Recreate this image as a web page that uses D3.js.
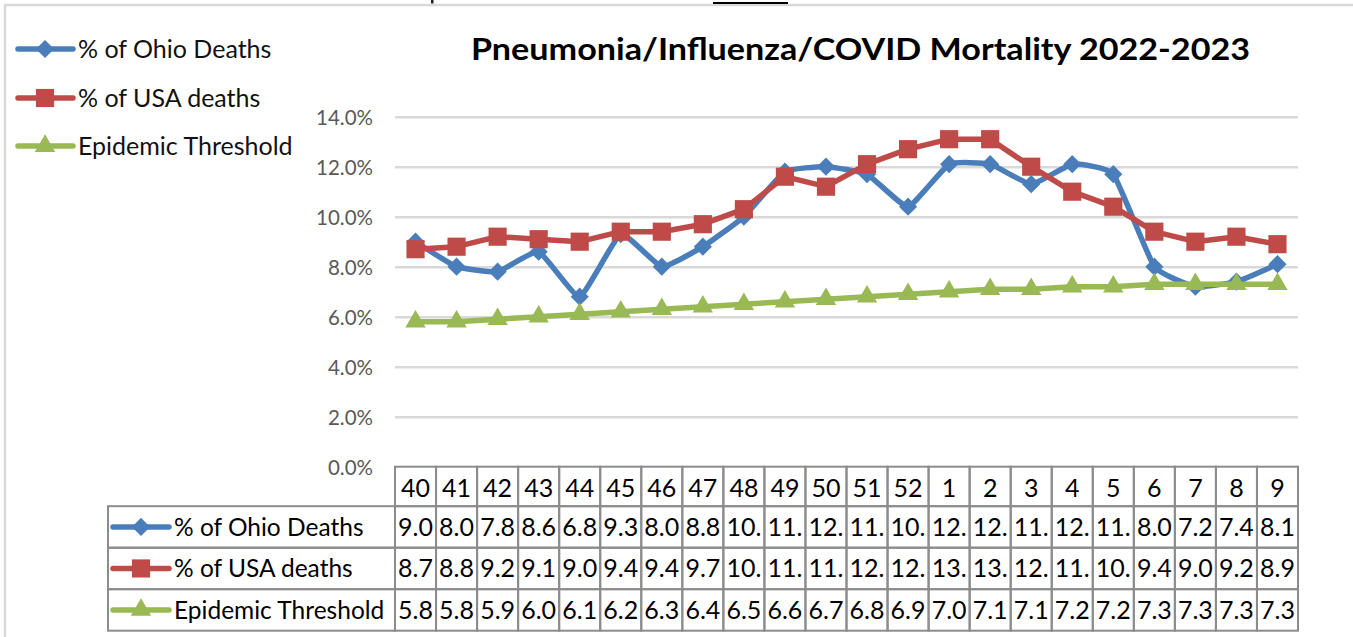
<!DOCTYPE html>
<html>
  <head>
    <meta charset="utf-8">
    <script src="https://cdn.jsdelivr.net/npm/d3@7"></script>
    <style>
        body { margin: 0; background: #fff; }
        text { font-family: Lato, "Open Sans", sans-serif; }
    </style>
  </head>

  <body>
    <div id="my_dataviz"></div>
  </body>

  <script>

    // week numbers along the table header
    let weeks = ["40","41","42","43","44","45","46","47","48","49","50","51","52",
                 "1","2","3","4","5","6","7","8","9"];

    let ohioDeaths = [9.0, 8.0, 7.8, 8.6, 6.8, 9.3, 8.0, 8.8, 10.0, 11.8, 12.0,
                      11.7, 10.4, 12.1, 12.1, 11.3, 12.1, 11.7, 8.0, 7.2, 7.4, 8.1];

    let usaDeaths = [8.7, 8.8, 9.2, 9.1, 9.0, 9.4, 9.4, 9.7, 10.3, 11.6, 11.2,
                     12.1, 12.7, 13.1, 13.1, 12.0, 11.0, 10.4, 9.4, 9.0, 9.2, 8.9];

    let threshold = [5.8, 5.8, 5.9, 6.0, 6.1, 6.2, 6.3, 6.4, 6.5, 6.6, 6.7,
                     6.8, 6.9, 7.0, 7.1, 7.1, 7.2, 7.2, 7.3, 7.3, 7.3, 7.3];

    let yTicks = [0, 2, 4, 6, 8, 10, 12, 14];

    let seriesNames = ["% of Ohio Deaths", "% of USA deaths", "Epidemic Threshold"];

    let title = "Pneumonia/Influenza/COVID Mortality 2022-2023";

    let series = [
      { name: seriesNames[0], values: ohioDeaths, color: "#4a7ebb", shape: "diamond", smooth: true },
      { name: seriesNames[1], values: usaDeaths,  color: "#be4b48", shape: "square",  smooth: false },
      { name: seriesNames[2], values: threshold,  color: "#98b954", shape: "triangle", smooth: false }
    ];

    let W = 1353, H = 637;
    let plot = {left: 395, right: 1298, top: 116.7, bottom: 466.7};

    let svg = d3.select("#my_dataviz")
                .append("svg")
                  .attr("width", W)
                  .attr("height", H);

    // frame remnants of the screenshot
    svg.append("line")
       .attr("x1", 4).attr("x2", W).attr("y1", 5).attr("y2", 5)
       .attr("stroke", "#d9d9d9").attr("stroke-width", 2.5);
    svg.append("line")
       .attr("x1", 5).attr("x2", 5).attr("y1", 4).attr("y2", H)
       .attr("stroke", "#d9d9d9").attr("stroke-width", 2.5);
    svg.append("rect")
       .attr("x", 431).attr("y", 0).attr("width", 2.5).attr("height", 3.5)
       .attr("fill", "#222");
    svg.append("line")
       .attr("x1", 713).attr("x2", 788).attr("y1", 3).attr("y2", 3)
       .attr("stroke", "#000").attr("stroke-width", 2);

    let x = d3.scaleBand()
              .domain(weeks)
              .range([plot.left, plot.right]);

    let cx = function(w) { return x(w) + x.bandwidth() / 2 };

    let y = d3.scaleLinear()
              .domain([0, 14])
              .range([plot.bottom, plot.top]);

    // gridlines + y labels
    let yAxis = svg.append("g")
       .attr("transform", "translate(" + plot.left + ",0)")
       .call(d3.axisLeft(y)
               .tickValues(yTicks)
               .tickSize(-(plot.right - plot.left))
               .tickPadding(22)
               .tickFormat(function(d) { return d.toFixed(1) + "%" }));

    yAxis.select(".domain").remove();
    yAxis.selectAll(".tick line")
         .attr("stroke", "#d9d9d9")
         .attr("stroke-width", 2.5)
         .filter(function(d) { return d === 0 }).remove();
    yAxis.selectAll(".tick text")
         .attr("font-size", 20.5)
         .attr("fill", "#595959")
         .attr("dy", "0.38em");

    // title
    svg.append("text")
       .attr("x", 471).attr("y", 60)
       .attr("font-size", 30)
       .attr("font-weight", "bold")
       .attr("fill", "#000")
       .attr("textLength", 779)
       .attr("lengthAdjust", "spacingAndGlyphs")
       .text(title);

    function symbolPath(shape) {
      if (shape === "diamond") return d3.symbol().type(d3.symbolSquare).size(165)();
      if (shape === "square") return d3.symbol().type(d3.symbolSquare).size(330)();
      return d3.symbol().type(d3.symbolTriangle).size(180)();
    }

    function addMarker(g, s, px, py) {
      g.append("path")
       .attr("d", symbolPath(s.shape))
       .attr("fill", s.color)
       .attr("transform", "translate(" + px + "," + py + ")" +
             (s.shape === "diamond" ? " rotate(45)" : ""));
    }

    // lines and markers
    series.forEach(function(s) {
      let g = svg.append("g");
      g.append("path")
       .datum(s.values)
       .attr("fill", "none")
       .attr("stroke", s.color)
       .attr("stroke-width", 5.5)
       .attr("stroke-linejoin", "round")
       .attr("d", d3.line()
           .curve(s.smooth ? d3.curveCardinal.tension(0.6) : d3.curveLinear)
           .x(function(d, i) { return cx(weeks[i]) })
           .y(function(d) { return y(d) }));
      s.values.forEach(function(v, i) {
        addMarker(g, s, cx(weeks[i]), y(v));
      });
    });

    // legend, top left
    let legendY = [49, 98, 146];
    series.forEach(function(s, i) {
      let g = svg.append("g");
      g.append("line")
       .attr("x1", 18).attr("x2", 73)
       .attr("y1", legendY[i]).attr("y2", legendY[i])
       .attr("stroke", s.color).attr("stroke-width", 5.5)
       .attr("stroke-linecap", "round");
      addMarker(g, s, 45, legendY[i]);
      g.append("text")
       .attr("x", 78).attr("y", legendY[i])
       .attr("dy", "0.36em")
       .attr("font-size", 25)
       .attr("fill", "#111")
       .text(s.name);
    });

    // data table under the plot
    let tableLeft = 108;
    let headTop = plot.bottom, headH = 39.5, rowH = 41.5;
    let border = "#8c8c8c";
    let table = svg.append("g");

    weeks.forEach(function(w) {
      table.append("rect")
           .attr("x", x(w)).attr("y", headTop)
           .attr("width", x.bandwidth()).attr("height", headH)
           .attr("fill", "none").attr("stroke", border).attr("stroke-width", 2);
      table.append("text")
           .attr("x", cx(w)).attr("y", headTop + headH / 2 + 2)
           .attr("dy", "0.36em")
           .attr("text-anchor", "middle")
           .attr("font-size", 25)
           .text(w);
    });

    series.forEach(function(s, r) {
      let top = headTop + headH + r * rowH;
      table.append("rect")
           .attr("x", tableLeft).attr("y", top)
           .attr("width", plot.left - tableLeft).attr("height", rowH)
           .attr("fill", "none").attr("stroke", border).attr("stroke-width", 2);
      let key = table.append("g");
      key.append("line")
         .attr("x1", 113).attr("x2", 169)
         .attr("y1", top + rowH / 2).attr("y2", top + rowH / 2)
         .attr("stroke", s.color).attr("stroke-width", 5.5)
         .attr("stroke-linecap", "round");
      addMarker(key, s, 141, top + rowH / 2);
      table.append("text")
           .attr("x", 174).attr("y", top + rowH / 2)
           .attr("dy", "0.36em")
           .attr("font-size", 24.5)
           .text(s.name);

      s.values.forEach(function(v, i) {
        let w = weeks[i];
        table.append("rect")
             .attr("x", x(w)).attr("y", top)
             .attr("width", x.bandwidth()).attr("height", rowH)
             .attr("fill", "none").attr("stroke", border).attr("stroke-width", 2);
        // cells too narrow for "10.0" show only three characters
        table.append("text")
             .attr("x", cx(w)).attr("y", top + rowH / 2)
             .attr("dy", "0.36em")
             .attr("text-anchor", "middle")
             .attr("font-size", 25)
             .text(v.toFixed(1).slice(0, 3));
      });
    });

  </script>

</html>
